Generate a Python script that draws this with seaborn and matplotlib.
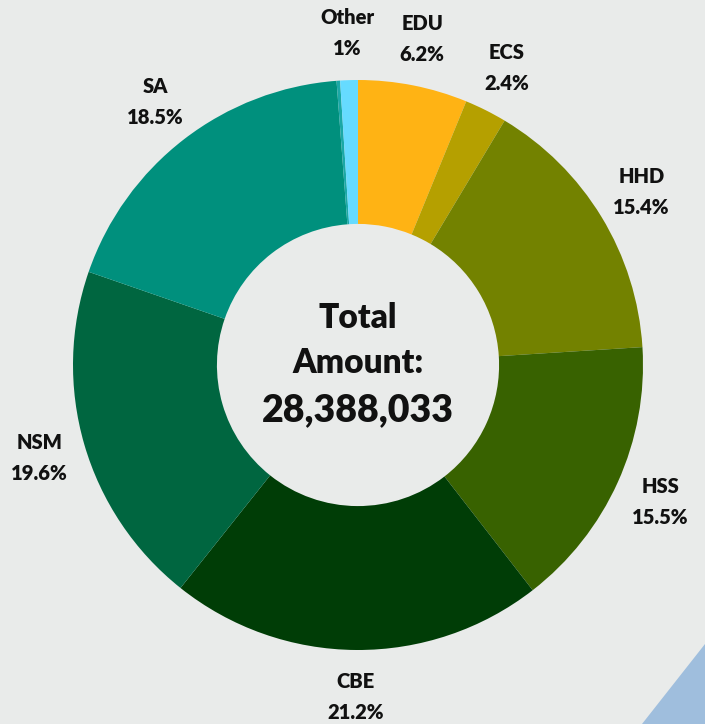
import matplotlib
matplotlib.use("Agg")
import matplotlib.pyplot as plt
import seaborn as sns
from matplotlib.patches import Polygon

sns.set_theme(style="white")
plt.rcParams['font.family'] = ['Lato', 'DejaVu Sans']

categories = ["EDU", "ECS", "HHD", "HSS", "CBE", "NSM", "SA", "", "Other"]
values = [6.2, 2.4, 15.4, 15.5, 21.2, 19.6, 18.5, 0.2, 1.0]
pct_labels = ["6.2%", "2.4%", "15.4%", "15.5%", "21.2%", "19.6%", "18.5%", "", "1%"]
colors = ["#FFB314", "#B5A000", "#738200", "#386200", "#003D06",
          "#006640", "#00907D", "#1BA8A6", "#66DBFF"]
total_text = "28,388,033"

bg = "#E9EBEA"
fig = plt.figure(figsize=(7.05, 7.24), dpi=100, facecolor=bg)
ax = fig.add_axes([0, 0, 1, 1])
ax.set_facecolor(bg)

# decorative triangle bottom-right
ax.add_patch(Polygon([[705, 0], [705, 80], [642, 0]], closed=True,
                     facecolor="#9FBEDD", edgecolor="none"))

cx, cy, R = 358, 359, 285
labels = [f"{c}\n{p}" if c else "" for c, p in zip(categories, pct_labels)]
wedges, texts = ax.pie(values, colors=colors, startangle=90, counterclock=False,
                       center=(cx, cy), radius=R, labels=labels, labeldistance=1.165,
                       wedgeprops=dict(width=R * 0.505, linewidth=0),
                       textprops=dict(fontsize=14.5, fontweight='heavy', color='#111111',
                                      va='center', linespacing=1.75),
                       frame=True)
for t in texts:
    t.set_horizontalalignment('center')
ax.set_xlim(0, 705)
ax.set_ylim(0, 724)
ax.set_aspect('equal')
ax.axis('off')

ax.text(cx, 724 - 318, "Total", fontsize=24, fontweight='heavy', ha='center', va='center', color='#111111')
ax.text(cx, 724 - 363, "Amount:", fontsize=24, fontweight='heavy', ha='center', va='center', color='#111111')
ax.text(cx, 724 - 410, total_text, fontsize=27, fontweight='heavy', ha='center', va='center', color='#111111')

fig.savefig("out.png", dpi=100, facecolor=bg)
